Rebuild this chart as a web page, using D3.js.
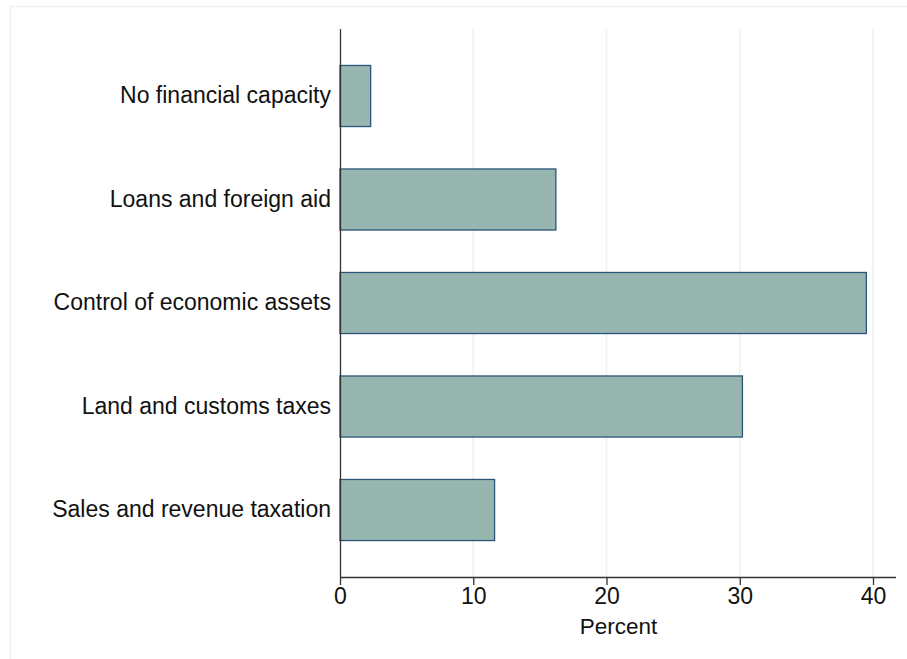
<!DOCTYPE html>
<html>
<head>
<meta charset="utf-8">
<script src="https://cdn.jsdelivr.net/npm/d3@7"></script>
<style>
  body { margin: 0; background: #fff; }
  text { font-family: "Liberation Sans", Arial, sans-serif; }
</style>
</head>
<body>
<div id="chart"></div>
<script>
const categories = [
  "No financial capacity",
  "Loans and foreign aid",
  "Control of economic assets",
  "Land and customs taxes",
  "Sales and revenue taxation"
];
const percents = [2.3, 16.2, 39.5, 30.2, 11.6];
const xTicks = [0, 10, 20, 30, 40];

const width = 907, height = 659;
const plotLeft = 340, plotTop = 29, plotBottom = 577, plotRight = 896;

const svg = d3.select("#chart").append("svg")
  .attr("width", width).attr("height", height);

// faint graph region outline
svg.append("rect")
  .attr("x", 10.5).attr("y", 6.5)
  .attr("width", width).attr("height", height)
  .attr("fill", "none").attr("stroke", "#edf3f4").attr("stroke-width", 1.5);

const x = d3.scaleLinear().domain([0, 40]).range([plotLeft, 873]);
const y = d3.scaleBand()
  .domain(categories)
  .range([44.25, 561.75])
  .paddingInner(0.41)
  .paddingOuter(0.205);

// grid
svg.append("g").selectAll("line")
  .data(xTicks.filter(d => d > 0))
  .enter().append("line")
  .attr("x1", d => x(d)).attr("x2", d => x(d))
  .attr("y1", plotTop).attr("y2", plotBottom)
  .attr("stroke", "#eaf2f3").attr("stroke-width", 1.5);

// bars
svg.append("g").selectAll("rect")
  .data(categories)
  .enter().append("rect")
  .attr("x", x(0))
  .attr("y", d => y(d))
  .attr("width", (d, i) => x(percents[i]) - x(0))
  .attr("height", y.bandwidth())
  .attr("fill", "#98b6b0")
  .attr("stroke", "#2b5576")
  .attr("stroke-width", 1.3);

// x axis
const xAxis = svg.append("g")
  .attr("transform", `translate(0,${plotBottom})`)
  .call(d3.axisBottom(x).tickValues(xTicks).tickSize(8).tickPadding(3).tickSizeOuter(0));
xAxis.select(".domain").attr("d", `M${plotLeft},0.5H${plotRight}`).attr("stroke", "#333").attr("stroke-width", 1.3);
xAxis.selectAll(".tick line").attr("stroke", "#333").attr("stroke-width", 1.3);
xAxis.selectAll(".tick text").attr("font-size", 23).attr("fill", "#111")
  .attr("font-family", "'Liberation Sans', Arial, sans-serif");

svg.append("text")
  .attr("x", x(20) + 12).attr("y", 634)
  .attr("text-anchor", "middle")
  .attr("font-size", 22.5).attr("fill", "#111")
  .text("Percent");

// y axis
const yAxis = svg.append("g")
  .attr("transform", `translate(${plotLeft},0)`)
  .call(d3.axisLeft(y).tickSize(0).tickPadding(9));
yAxis.select(".domain").attr("d", `M0.5,${plotTop}V${plotBottom}`).attr("stroke", "#333").attr("stroke-width", 1.3);
yAxis.selectAll(".tick text").attr("font-size", 23).attr("fill", "#111")
  .attr("font-family", "'Liberation Sans', Arial, sans-serif");
</script>
</body>
</html>
